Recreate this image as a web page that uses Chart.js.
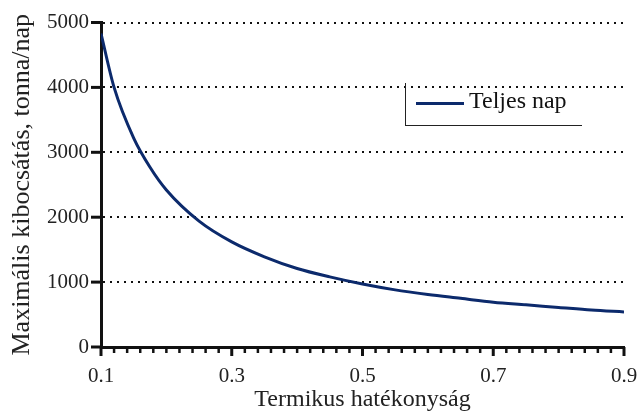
<!DOCTYPE html>
<html>
<head>
<meta charset="utf-8">
<script src="https://cdn.jsdelivr.net/npm/chart.js@4/dist/chart.umd.min.js"></script>
<style>
  html, body { margin: 0; padding: 0; background: #fff; }
  #wrap { position: relative; width: 640px; height: 412px; }
  #legend {
    position: absolute; left: 405px; top: 83px; width: 177px; height: 43px;
    border-left: 1.5px solid #222; border-bottom: 1.5px solid #222;
    font-family: "Liberation Serif", "DejaVu Serif", serif; font-size: 24px; color: #111;
    box-sizing: border-box;
  }
  #legend .swatch { position: absolute; left: 10px; top: 19px; width: 48px; height: 3px; }
  #legend .txt { position: absolute; left: 63px; top: 3px; white-space: nowrap; line-height: 28px; }
</style>
</head>
<body>
<div id="wrap">
  <canvas id="myChart" width="640" height="412"></canvas>
  <div id="legend"></div>
</div>
<script>
// thermal efficiency vs max emission
const efficiency = [0.1, 0.12, 0.15, 0.175, 0.2, 0.25, 0.3, 0.35, 0.4, 0.45, 0.5, 0.55, 0.6, 0.65, 0.7, 0.75, 0.8, 0.85, 0.9];
const emission = [4830, 4000, 3220, 2770, 2420, 1940, 1620, 1390, 1210, 1080, 970, 880, 810, 750, 690, 650, 610, 570, 540];
const seriesName = "Teljes nap";
const xLabels = [0.1, 0.3, 0.5, 0.7, 0.9];
const yTicks = [0, 1000, 2000, 3000, 4000, 5000];
const xMinorStep = 0.02;

const lineColor = "#0c2a6c";
const serif = "'Liberation Serif', 'DejaVu Serif', serif";

const isMajor = (v) => xLabels.some((l) => Math.round(l * 100) === Math.round(v * 100));

// tick marks drawn by hand: long ones on the y axis and majors, short minors on x
const axisTicks = {
  id: "axisTicks",
  afterDraw(chart) {
    const { ctx, chartArea, scales } = chart;
    ctx.save();
    ctx.strokeStyle = "#111";
    ctx.lineCap = "butt";
    ctx.lineWidth = 3;
    yTicks.forEach((v) => {
      const y = scales.y.getPixelForValue(v);
      ctx.beginPath();
      ctx.moveTo(chartArea.left - 10, y);
      ctx.lineTo(chartArea.left, y);
      ctx.stroke();
    });
    const n = Math.round((scales.x.max - scales.x.min) / xMinorStep);
    for (let k = 0; k <= n; k++) {
      const v = scales.x.min + k * xMinorStep;
      const x = scales.x.getPixelForValue(v);
      const major = isMajor(v);
      ctx.lineWidth = major ? 3 : 2.5;
      ctx.beginPath();
      ctx.moveTo(x, chartArea.bottom);
      ctx.lineTo(x, chartArea.bottom + (major ? 9 : 6));
      ctx.stroke();
    }
    ctx.restore();
  },
};

const ctx = document.getElementById("myChart");

new Chart(ctx, {
  type: "line",
  data: {
    datasets: [
      {
        label: seriesName,
        data: efficiency.map((x, i) => ({ x: x, y: emission[i] })),
        borderColor: lineColor,
        borderWidth: 3,
        pointRadius: 0,
        cubicInterpolationMode: "monotone",
        fill: false,
      },
    ],
  },
  options: {
    responsive: false,
    animation: false,
    layout: { padding: { top: 12, right: 0, left: 9, bottom: 0 } },
    plugins: { legend: { display: false }, tooltip: { enabled: false } },
    scales: {
      x: {
        type: "linear",
        min: 0.1,
        max: 0.9,
        afterFit: (s) => { s.paddingRight = 16; },
        afterBuildTicks: (s) => { s.ticks = xLabels.map((v) => ({ value: v })); },
        ticks: {
          autoSkip: false,
          maxRotation: 0,
          padding: 19,
          color: "#222",
          font: { family: serif, size: 21, lineHeight: 1 },
          callback: (v) => v.toFixed(1),
        },
        grid: { drawOnChartArea: false, drawTicks: false },
        border: { color: "#111", width: 3 },
        title: {
          display: true,
          text: "Termikus hatékonyság",
          color: "#222",
          font: { family: serif, size: 24, lineHeight: 1 },
          padding: { top: -18, bottom: 0 },
        },
      },
      y: {
        min: 0,
        max: 5000,
        afterBuildTicks: (s) => { s.ticks = yTicks.map((v) => ({ value: v })); },
        ticks: {
          padding: 12,
          color: "#222",
          font: { family: serif, size: 21, lineHeight: 1 },
          callback: (v) => String(v),
        },
        grid: {
          color: (c) => (c.tick && c.tick.value === 0 ? "rgba(0,0,0,0)" : "#111"),
          lineWidth: 2,
          drawTicks: false,
        },
        border: { color: "#111", width: 3, dash: [2, 5] },
        title: {
          display: true,
          text: "Maximális kibocsátás, tonna/nap",
          color: "#222",
          font: { family: serif, size: 26, lineHeight: 1 },
          padding: { top: 0, bottom: 0 },
        },
      },
    },
  },
  plugins: [axisTicks],
});

const legend = document.getElementById("legend");
legend.innerHTML = '<div class="swatch" style="background:' + lineColor + '"></div><div class="txt">' + seriesName + "</div>";
</script>
</body>
</html>
